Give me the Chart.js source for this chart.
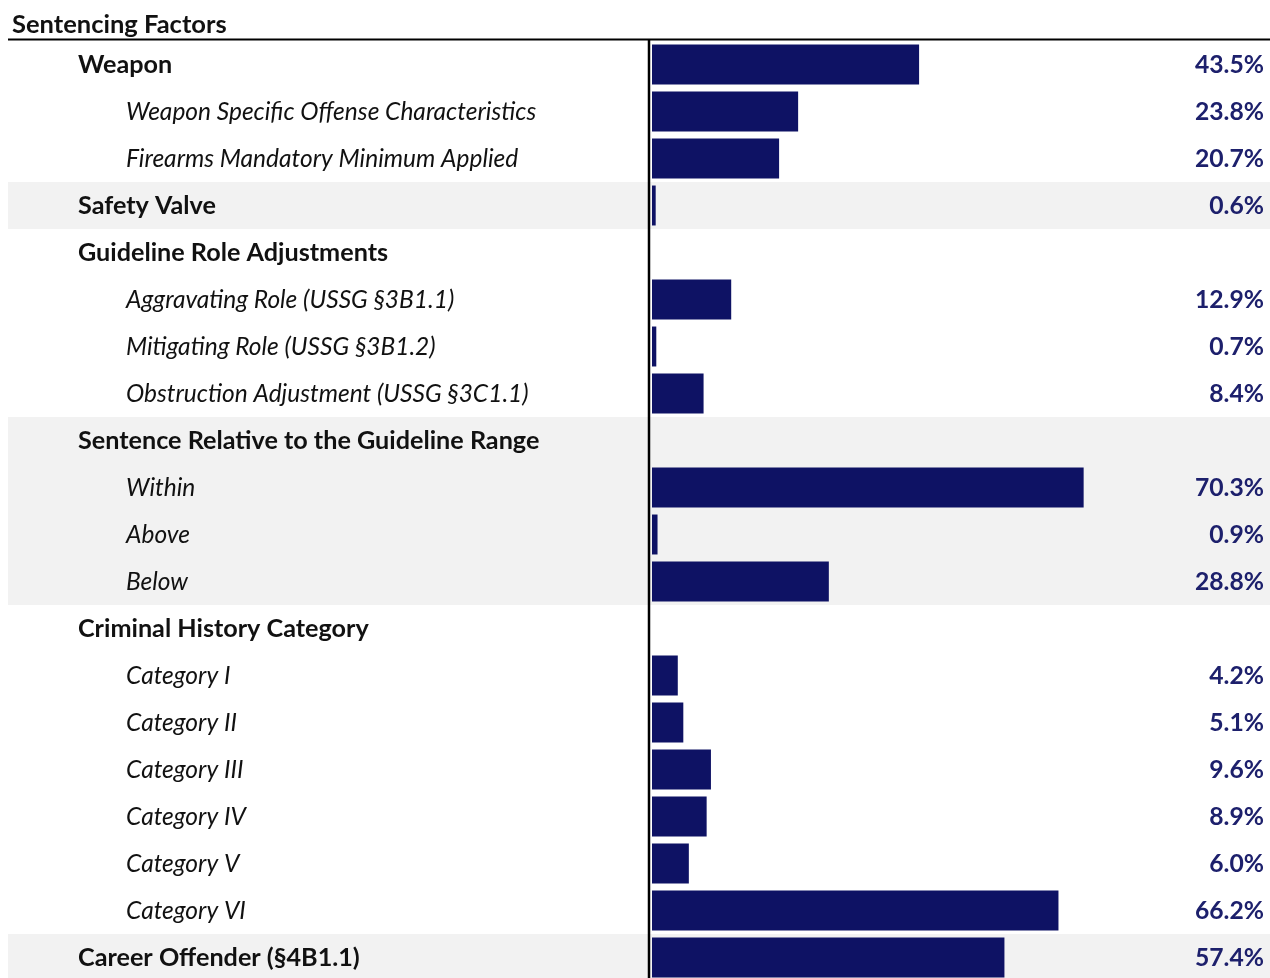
<!DOCTYPE html>
<html>
<head>
<meta charset="utf-8">
<title>Sentencing Factors</title>
<script src="https://cdn.jsdelivr.net/npm/chart.js@4"></script>
<style>
  html, body { margin: 0; padding: 0; background: #fff; overflow: hidden; }
  #clip { width: 1270px; height: 978px; overflow: hidden; }
  #wrap { width: 1270px; height: 981px; position: relative; }
</style>
</head>
<body>
<div id="clip"><div id="wrap"><canvas id="factorChart"></canvas></div></div>
<script>
const title = 'Sentencing Factors';

const labels = [
  'Weapon',
  'Weapon Specific Offense Characteristics',
  'Firearms Mandatory Minimum Applied',
  'Safety Valve',
  'Guideline Role Adjustments',
  'Aggravating Role (USSG §3B1.1)',
  'Mitigating Role (USSG §3B1.2)',
  'Obstruction Adjustment (USSG §3C1.1)',
  'Sentence Relative to the Guideline Range',
  'Within',
  'Above',
  'Below',
  'Criminal History Category',
  'Category I',
  'Category II',
  'Category III',
  'Category IV',
  'Category V',
  'Category VI',
  'Career Offender (§4B1.1)'
];

// true = sub-item under the heading above it
const subItem = [
  false, true, true,
  false,
  false, true, true, true,
  false, true, true, true,
  false, true, true, true, true, true, true,
  false
];

// percent of cases; null where the heading has no bar of its own
const values = [
  43.5, 23.8, 20.7,
  0.6,
  null, 12.9, 0.7, 8.4,
  null, 70.3, 0.9, 28.8,
  null, 4.2, 5.1, 9.6, 8.9, 6.0, 66.2,
  57.4
];

const barColor = '#0e1264';
const valueColor = '#1d206c';
const bandColor = '#f2f2f2';
const fontFamily = 'Lato, "Noto Sans", sans-serif';

// every heading starts a new group; every other group gets a grey band
const groupIndex = [];
let g = -1;
subItem.forEach(s => { if (!s) g++; groupIndex.push(g); });

const tablePlugin = {
  id: 'tablePlugin',
  beforeDatasetsDraw(chart) {
    const { ctx, scales: { y }, chartArea } = chart;
    const step = (chartArea.bottom - chartArea.top) / labels.length;
    ctx.save();
    ctx.fillStyle = bandColor;
    labels.forEach((_, i) => {
      if (groupIndex[i] % 2 === 1) {
        const cy = y.getPixelForValue(i);
        ctx.fillRect(8, cy - step / 2, chart.width - 8, step);
      }
    });
    ctx.restore();
  },
  afterDatasetsDraw(chart) {
    const { ctx, scales: { y }, chartArea } = chart;
    ctx.save();
    ctx.textBaseline = 'middle';

    // row labels and value labels
    labels.forEach((text, i) => {
      const cy = y.getPixelForValue(i) + 0.5;
      ctx.fillStyle = '#111';
      ctx.textAlign = 'left';
      if (subItem[i]) {
        ctx.font = 'italic 24.5px ' + fontFamily;
        ctx.fillText(text, 126, cy);
      } else {
        ctx.font = 'bold 25.2px ' + fontFamily;
        ctx.fillText(text, 78, cy);
      }
      if (values[i] !== null) {
        ctx.fillStyle = valueColor;
        ctx.font = 'bold 24.7px ' + fontFamily;
        ctx.textAlign = 'right';
        ctx.fillText(values[i].toFixed(1) + '%', 1264, cy);
      }
    });

    // title and rules
    ctx.fillStyle = '#111';
    ctx.textAlign = 'left';
    ctx.textBaseline = 'alphabetic';
    ctx.font = 'bold 25.5px ' + fontFamily;
    ctx.fillText(title, 12, 33);

    ctx.strokeStyle = '#000';
    ctx.lineWidth = 2;
    ctx.beginPath();
    ctx.moveTo(8, chartArea.top - 1.5);
    ctx.lineTo(chart.width, chartArea.top - 1.5);
    ctx.stroke();
    ctx.lineWidth = 2.5;
    ctx.beginPath();
    ctx.moveTo(649, chartArea.top - 2);
    ctx.lineTo(649, chartArea.bottom);
    ctx.stroke();
    ctx.restore();
  }
};

new Chart(document.getElementById('factorChart'), {
  type: 'bar',
  data: {
    labels: labels,
    datasets: [{
      data: values,
      backgroundColor: barColor,
      borderWidth: 0,
      categoryPercentage: 1,
      barPercentage: 0.85
    }]
  },
  options: {
    indexAxis: 'y',
    responsive: true,
    maintainAspectRatio: false,
    animation: false,
    layout: { padding: { left: 652, right: 4, top: 41, bottom: 0 } },
    plugins: {
      legend: { display: false },
      tooltip: { enabled: false }
    },
    scales: {
      x: { display: false, min: 0, max: 100 },
      y: { display: false }
    }
  },
  plugins: [tablePlugin]
});
</script>
</body>
</html>
